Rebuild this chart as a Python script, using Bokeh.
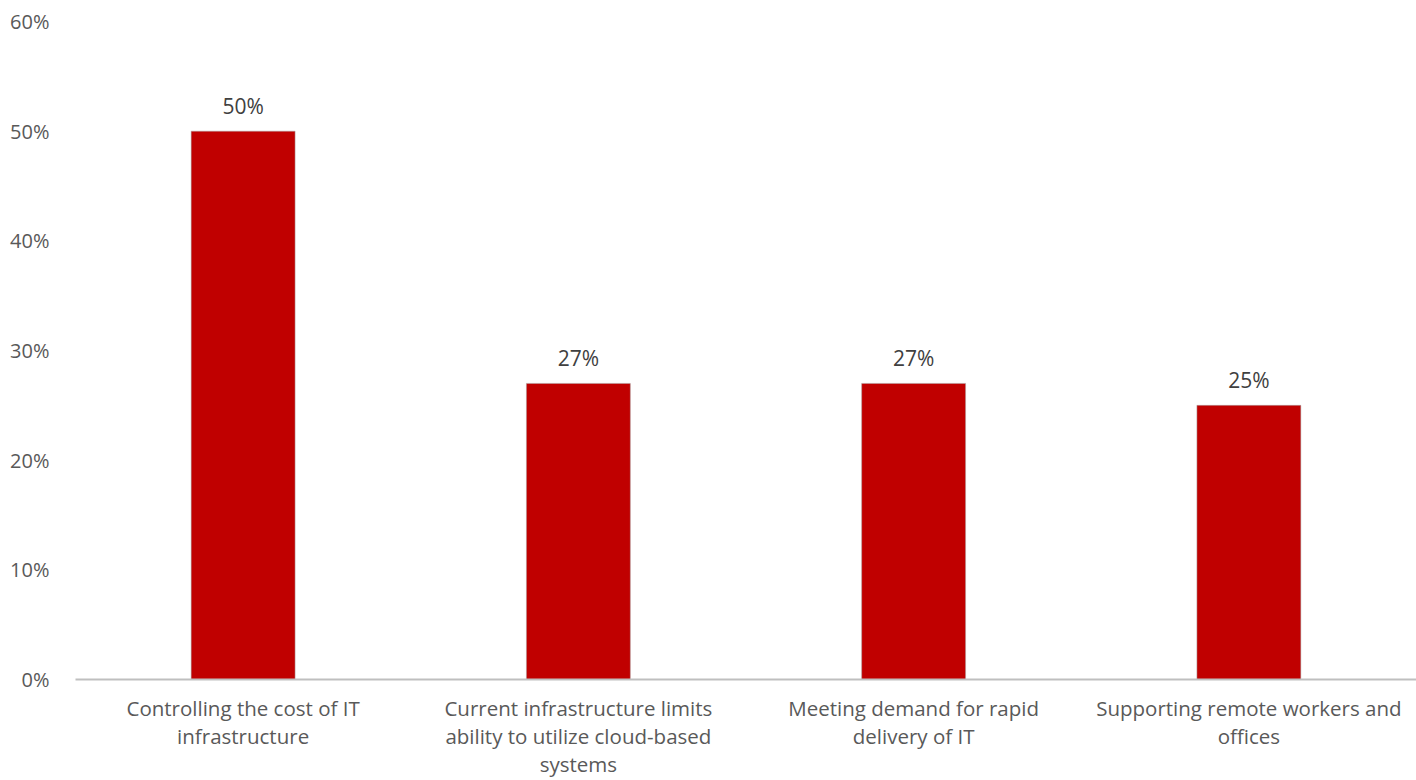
from bokeh.plotting import figure
from bokeh.models import ColumnDataSource, FactorRange, NumeralTickFormatter, FixedTicker
from bokeh.embed import file_html
from bokeh.resources import INLINE
from bokeh.core.properties import value

categories = [
    "Controlling the cost of IT\ninfrastructure",
    "Current infrastructure limits\nability to utilize cloud-based\nsystems",
    "Meeting demand for rapid\ndelivery of IT",
    "Supporting remote workers and\noffices",
]
values = [0.50, 0.27, 0.27, 0.25]
labels = ["50%", "27%", "27%", "25%"]
y_ticks = [0, 0.1, 0.2, 0.3, 0.4, 0.5, 0.6]

FONT = "Open Sans"

src = ColumnDataSource(dict(cat=categories, val=values, lab=labels))

p = figure(x_range=FactorRange(*categories, range_padding=0), y_range=(0, 0.6),
           width=1416, height=780, output_backend="svg", toolbar_location=None,
           min_border_left=75, min_border_right=0, min_border_top=21, min_border_bottom=90)
p.outline_line_color = None
p.grid.visible = False
p.x_range.factor_padding = 0

p.vbar(x="cat", top="val", width=0.31, source=src, fill_color="#C00000",
       line_color="#A6A6A6", line_width=0.5)
p.text(x="cat", y="val", text="lab", source=src, text_align="center", text_baseline="bottom",
       y_offset=-11, text_font=value(FONT), text_font_size="21px", text_color="#404040")

p.yaxis.ticker = FixedTicker(ticks=y_ticks)
p.yaxis.formatter = NumeralTickFormatter(format="0%")
p.yaxis.axis_line_color = None
p.yaxis.major_tick_line_color = None
p.yaxis.minor_tick_line_color = None
p.yaxis.major_label_standoff = 20
p.yaxis.major_label_text_font = FONT
p.yaxis.major_label_text_font_size = "20px"
p.yaxis.major_label_text_color = "#595959"

p.xaxis.axis_line_color = "#BFBFBF"
p.xaxis.axis_line_width = 2
p.xaxis.major_tick_line_color = None
p.xaxis.minor_tick_line_color = None
p.xaxis.major_label_standoff = 8
p.xaxis.major_label_text_font = FONT
p.xaxis.major_label_text_font_size = "20.5px"
p.xaxis.major_label_text_line_height = 1.0
p.xaxis.major_label_text_color = "#595959"
p.xaxis.major_label_orientation = "horizontal"

open("out.html", "w").write(file_html(p, INLINE))
